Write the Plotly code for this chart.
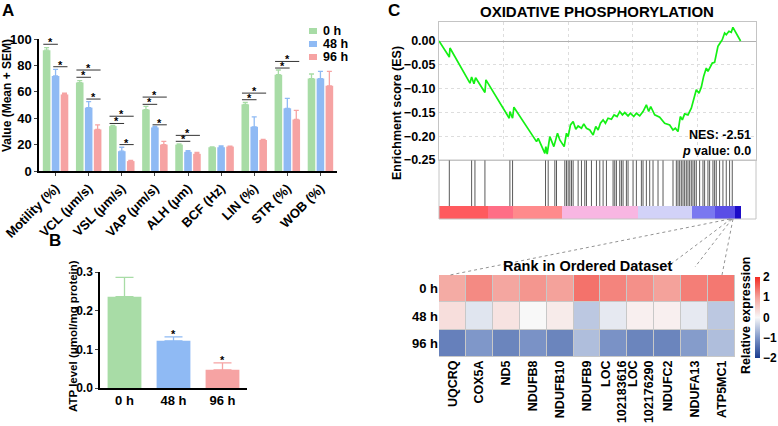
import plotly.graph_objects as go

# ---------------- DATA ----------------
params = ["Motility (%)", "VCL (μm/s)", "VSL (μm/s)", "VAP (μm/s)", "ALH (μm)",
          "BCF (Hz)", "LIN (%)", "STR (%)", "WOB (%)"]
groups = ["0 h", "48 h", "96 h"]
vals_0h = [91.5, 67.0, 34.0, 46.5, 20.0, 18.0, 50.5, 73.0, 70.0]
err_0h = [2.0, 1.5, 0.6, 2.5, 0.6, 0.3, 1.5, 3.5, 3.5]
vals_48h = [72.0, 48.0, 15.0, 33.0, 14.5, 18.0, 33.5, 47.5, 70.0]
err_48h = [5.0, 4.5, 3.0, 0.8, 1.0, 1.0, 7.5, 7.5, 5.5]
vals_96h = [58.0, 31.5, 7.5, 20.0, 13.0, 18.5, 23.5, 39.0, 64.5]
err_96h = [1.0, 3.5, 0.5, 2.5, 1.0, 0.4, 0.5, 7.0, 11.0]

# significance brackets: (group index, comparison, height)
brk_group = [0, 0, 0, 1, 1, 1, 2, 2, 2, 3, 3, 3, 4, 4, 6, 6, 7, 7]
brk_pair = ["0-96", "0-48", "48-96", "0-96", "0-48", "48-96", "0-96", "0-48", "48-96",
            "0-96", "0-48", "48-96", "0-96", "0-48", "0-96", "0-48", "0-96", "0-48"]
brk_y = [101.5, 96, 79, 76.5, 71, 54.5, 41.5, 36, 20, 56, 50.5, 35, 27, 22.5, 59, 54, 83, 78]

atp_groups = ["0 h", "48 h", "96 h"]
atp_vals = [0.236, 0.122, 0.047]
atp_err = [0.050, 0.010, 0.018]
atp_star = [None, 0.134, 0.066]

# GSEA running enrichment score (rank, ES) vertices
es_rank = [0, 800, 851, 2399, 2528, 2709, 2838, 3560, 3638, 5444, 5495, 5702, 5805, 7559, 7688,
           8204, 8282, 8385, 8591, 8901, 9185, 9365, 9701, 9881, 10010, 10191, 10397, 10604,
           10784, 11042, 11223, 11429, 11687, 11945, 12152, 12332, 12513, 12719, 12900, 13106,
           13364, 13571, 13803, 14009, 14216, 14396, 14654, 14835, 15093, 15299, 15557, 15815,
           16073, 16254, 16409, 16718, 17105, 17492, 17879, 18137, 18318, 18524, 18705, 18860,
           19040, 19298, 19556, 19737, 19943, 20150, 20330, 20511, 20717, 20846, 21027, 21182,
           21362, 21491, 21620, 21749, 21956, 22136, 22265, 22472, 22652, 22781, 23375]
es_val = [0, -0.0337, -0.0147, -0.0885, -0.0758, -0.0899, -0.0772, -0.1081, -0.0815, -0.1622,
          -0.1482, -0.1622, -0.1390, -0.2114, -0.2044, -0.2360, -0.2219, -0.2374, -0.2008,
          -0.2219, -0.1938, -0.2079, -0.2219, -0.1938, -0.2008, -0.1763, -0.1692, -0.1854,
          -0.1784, -0.1833, -0.1742, -0.1833, -0.1868, -0.1973, -0.1798, -0.1868, -0.1728,
          -0.1657, -0.1728, -0.1622, -0.1643, -0.1552, -0.1587, -0.1482, -0.1552, -0.1503,
          -0.1573, -0.1517, -0.1587, -0.1517, -0.1573, -0.1482, -0.1341, -0.1482, -0.1376,
          -0.1552, -0.1601, -0.1728, -0.1763, -0.1868, -0.1833, -0.1903, -0.1587, -0.1657,
          -0.1531, -0.1552, -0.1412, -0.1236, -0.1025, -0.1096, -0.0969, -0.0744, -0.0569,
          -0.0639, -0.0534, -0.0463, -0.0449, -0.0288, -0.0112, -0.0056, 0.0028, 0.0169,
          0.0133, 0.0204, 0.0183, 0.0288, 0]
hit_ranks = [800, 2528, 2786, 3560, 5495, 5702, 8256, 8462, 8978, 9107, 9752, 9881, 10010,
             10139, 10268, 10397, 10784, 11042, 11300, 11429, 11816, 12203, 12461, 12719,
             12977, 13493, 13622, 13751, 14009, 14138, 14267, 14525, 14654, 15041, 15299,
             15686, 15815, 16073, 16331, 16589, 16976, 17363, 18137, 18395, 18524, 18653,
             18782, 18911, 19040, 19169, 19298, 19427, 19556, 19685, 19814, 19943, 20201,
             20459, 20588, 20846, 20975, 21233, 21362, 21491, 21749, 22007, 22265, 22523, 22730]
metric_edges = [0, 3800, 5740, 9540, 15430, 19610, 21400, 22940, 23375]
metric_colors = ["#ff5a5e", "#ff6e86", "#ff8a8c", "#f8b6e2", "#d2d2f8", "#7a78f0", "#5a4ee6", "#1c0cc8"]

genes = ["UQCRQ", "COX5A", "ND5", "NDUFB8", "NDUFB10", "NDUFB9", "LOC<br>102183616",
         "LOC<br>102176290", "NDUFC2", "NDUFA13", "ATP5MC1"]
hm_rows = ["0 h", "48 h", "96 h"]
hm_z = [
    [0.9, 1.2, 0.95, 1.1, 1.0, 1.4, 1.25, 1.15, 1.0, 1.3, 1.35],
    [0.3, -0.2, 0.25, 0.0, 0.15, -0.5, -0.15, 0.1, 0.1, -0.15, -0.5],
    [-1.25, -1.0, -1.2, -1.05, -1.2, -0.6, -1.05, -1.2, -1.2, -0.95, -0.6],
]

# ---------------- STYLE ----------------
W, H = 778, 426
FONT = "Arial, Liberation Sans, sans-serif"
GREEN, BLUE, RED = "#a8dca6", "#8fbaf4", "#f6a3a3"
BOLD = dict(family=FONT, color="black", weight="bold")
def px(x): return x / W
def py(y): return 1 - y / H
def bf(size): return dict(BOLD, size=size)

fig = go.Figure()

# ---------- Panel A ----------
for name, v, e, c in [(groups[0], vals_0h, err_0h, GREEN),
                      (groups[1], vals_48h, err_48h, BLUE),
                      (groups[2], vals_96h, err_96h, RED)]:
    fig.add_trace(go.Bar(x=list(range(len(params))), y=v, name=name, marker_color=c,
                         marker_line_width=0, offsetgroup=name, showlegend=False,
                         error_y=dict(type="data", array=e, arrayminus=[0] * len(e),
                                      symmetric=False, color=c, thickness=1.3, width=2.5),
                         xaxis="x", yaxis="y"))

pair_span = {"0-48": (-0.37, 0.07), "0-96": (-0.37, 0.36), "48-96": (-0.07, 0.36)}
bx, by = [], []
for g, p, yv in zip(brk_group, brk_pair, brk_y):
    a, b = pair_span[p]
    bx += [g + a, g + b, None]
    by += [yv, yv, None]
    fig.add_annotation(x=g + (a + b) / 2, y=yv, xref="x", yref="y", text="*",
                       showarrow=False, font=bf(11), xanchor="center", yanchor="bottom",
                       yshift=-6)
fig.add_trace(go.Scatter(x=bx, y=by, mode="lines", line=dict(color="#333", width=1),
                         showlegend=False, hoverinfo="skip", xaxis="x", yaxis="y"))

# ---------- Panel B ----------
for gname, v, e, c in zip(atp_groups, atp_vals, atp_err, [GREEN, BLUE, RED]):
    fig.add_trace(go.Bar(x=[gname], y=[v], marker_color=c, marker_line_width=0, width=0.69,
                         showlegend=False, offsetgroup="atp",
                         error_y=dict(type="data", array=[e], arrayminus=[0], symmetric=False,
                                      color=c, thickness=1.3, width=9),
                         xaxis="x2", yaxis="y2"))
for gname, s in zip(atp_groups, atp_star):
    if s is not None:
        fig.add_annotation(x=gname, y=s, xref="x2", yref="y2", text="*", showarrow=False,
                           font=bf(11), xanchor="center", yanchor="bottom", yshift=-6)

# ---------- Panel C: ES curve ----------
fig.add_trace(go.Scatter(x=es_rank, y=es_val, mode="lines",
                         line=dict(color="#14f014", width=1.7), showlegend=False,
                         hoverinfo="skip", xaxis="x3", yaxis="y3"))
hx, hy = [], []
for r in hit_ranks:
    hx += [r, r, None]
    hy += [0, 1, None]
fig.add_trace(go.Scatter(x=hx, y=hy, mode="lines", line=dict(color="rgba(0,0,0,0.65)", width=1),
                         showlegend=False, hoverinfo="skip", xaxis="x4", yaxis="y4"))
n_seg = len(metric_colors)
cs = []
for i, c in enumerate(metric_colors):
    cs.append([i / n_seg, c])
    cs.append([(i + 1) / n_seg, c])
fig.add_trace(go.Heatmap(x=metric_edges, y=[0, 1], z=[[i + 0.5 for i in range(n_seg)]],
                         zmin=0, zmax=n_seg, colorscale=cs, showscale=False,
                         hoverinfo="skip", xaxis="x5", yaxis="y5"))

# ---------- Heatmap ----------
fig.add_trace(go.Heatmap(x=genes, y=hm_rows, z=hm_z, zmin=-2, zmax=2, xgap=1, ygap=1,
                         colorscale=[[0, "#1a3c8f"], [0.25, "#7f97c9"], [0.5, "#f8f8f8"],
                                     [0.75, "#f4a29b"], [1, "#f32a22"]],
                         colorbar=dict(x=px(755), xanchor="left", xpad=0, y=py(277),
                                       yanchor="top", len=(358 - 277) / H, lenmode="fraction",
                                       thickness=5, outlinewidth=0, ticks="",
                                       tickvals=[2, 1, 0, -1, -2], tickfont=bf(12), ypad=0),
                         xaxis="x6", yaxis="y6"))

# ---------- Layout ----------
axis_common = dict(showgrid=False, zeroline=False, automargin=False)
fig.update_layout(
    width=W, height=H, margin=dict(l=0, r=0, t=0, b=0, autoexpand=False),
    paper_bgcolor="white", plot_bgcolor="white",
    font=dict(family=FONT, color="black"),
    barmode="group", bargap=0.19, bargroupgap=0.15,
    xaxis=dict(axis_common, domain=[px(39), px(337)], range=[-0.5, 8.5],
               tickvals=list(range(len(params))), ticktext=params, tickangle=-45,
               tickfont=bf(13), showline=True, linecolor="black", linewidth=1.5,
               ticks="outside", ticklen=3, tickwidth=1.2, anchor="y"),
    yaxis=dict(axis_common, domain=[py(171), py(39)], range=[0, 100], dtick=20,
               tickfont=bf(13), showline=True, linecolor="black", linewidth=1.5,
               ticks="outside", ticklen=3, tickwidth=1.2, anchor="x"),
    xaxis2=dict(axis_common, domain=[px(100), px(247)], range=[-0.5, 2.5],
                tickfont=bf(13), showline=True, linecolor="black", linewidth=1.5,
                ticks="", anchor="y2"),
    yaxis2=dict(axis_common, domain=[py(388), py(272)], range=[0, 0.3], dtick=0.1,
                tickformat=".1f", tickfont=bf(12), showline=True, linecolor="black",
                linewidth=1.5, ticks="outside", ticklen=3, anchor="x2"),
    xaxis3=dict(domain=[px(439), px(756)], range=[0, 24570], dtick=5000, tick0=0,
                showticklabels=False, showgrid=True, gridcolor="#dddddd", griddash="dot",
                zeroline=False, showline=True, mirror=True, linecolor="#c4c4c4", ticks="",
                anchor="y3", automargin=False),
    yaxis3=dict(domain=[py(160), py(22)], range=[-0.25, 0.04], dtick=0.05, tickformat=".2f",
                tickfont=bf(12.5), showgrid=True, gridcolor="#dddddd", griddash="dot",
                zeroline=True, zerolinecolor="#b0b0b0", zerolinewidth=1,
                showline=True, mirror=True, linecolor="#c4c4c4", ticks="", anchor="x3",
                automargin=False),
    xaxis4=dict(axis_common, domain=[px(439), px(756)], range=[0, 24570],
                showticklabels=False, anchor="y4"),
    yaxis4=dict(axis_common, domain=[py(206), py(160)], range=[0, 1],
                showticklabels=False, anchor="x4"),
    xaxis5=dict(axis_common, domain=[px(439), px(756)], range=[0, 24570],
                showticklabels=False, anchor="y5"),
    yaxis5=dict(axis_common, domain=[py(219), py(206)], range=[0, 1],
                showticklabels=False, anchor="x5"),
    xaxis6=dict(axis_common, domain=[px(439), px(735)], tickangle=-90, tickfont=bf(12.5),
                ticks="", anchor="y6"),
    yaxis6=dict(axis_common, domain=[py(357), py(275)], autorange="reversed",
                tickfont=bf(13), ticks="", anchor="x6"),
)

shapes = []
shapes.append(dict(type="rect", xref="paper", yref="paper", x0=px(439), x1=px(735),
                   y0=py(357), y1=py(275), fillcolor="#c8c8c8", line_width=0, layer="below"))
shapes.append(dict(type="rect", xref="paper", yref="paper", x0=px(439), x1=px(756),
                   y0=py(219), y1=py(160), line=dict(color="#c4c4c4", width=1)))
for x0, x1, y1 in [(730, 450, 275), (731, 667, 267), (732, 695, 267), (733, 722, 275)]:
    shapes.append(dict(type="line", xref="paper", yref="paper", x0=px(x0), y0=py(219),
                       x1=px(x1), y1=py(y1), line=dict(color="#777", width=0.8, dash="dot")))
for i, c in enumerate([GREEN, BLUE, RED]):
    yc = 31 + 13 * i
    shapes.append(dict(type="rect", xref="paper", yref="paper", x0=px(309), x1=px(317),
                       y0=py(yc + 3), y1=py(yc - 3), fillcolor=c, line_width=0))
fig.update_layout(shapes=shapes)

ann = []
def A(x, y, text, size, **kw):
    d = dict(x=px(x), y=py(y), xref="paper", yref="paper", text=text, showarrow=False,
             font=bf(size), xanchor="center", yanchor="middle")
    d.update(kw)
    ann.append(d)

for i, g in enumerate(groups):
    A(321, 31 + 13 * i, g, 12.5, xanchor="left")
A(8, 10, "A", 17)
A(55, 241, "B", 17)
A(394, 10, "C", 17)
A(7, 96, "Value (Mean + SEM)", 12, textangle=-90)
A(73, 336, "ATP level (μmol/mg protein)", 11.5, textangle=-90)
A(397, 113, "Enrichment score (ES)", 12.5, textangle=-90)
A(597, 12, "OXIDATIVE PHOSPHORYLATION", 15)
A(753, 135, "NES: -2.51", 12.5, xanchor="right")
A(753, 151, "<i>p</i> value: 0.0", 12.5, xanchor="right")
A(587, 266, "Rank in Ordered Dataset", 14.5)
A(746, 316, "Relative expression", 12.5, textangle=-90)
for a in ann:
    fig.add_annotation(**a)

fig.write_html("out.html")
